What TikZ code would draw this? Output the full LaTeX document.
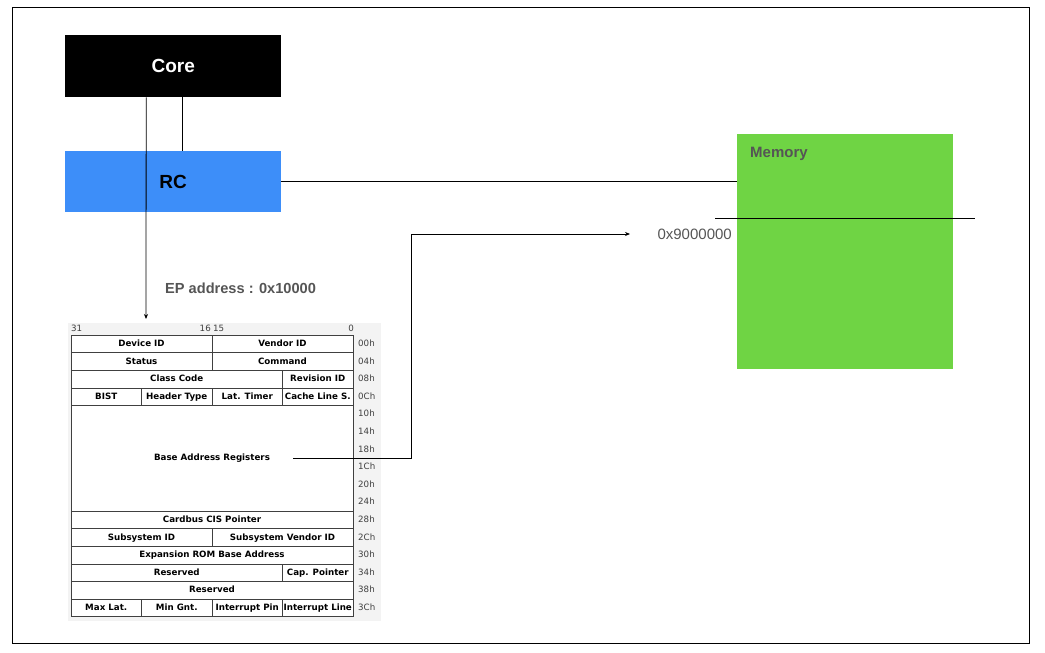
\documentclass[tikz,border=0pt]{standalone}
\usepackage{fontspec}
\setmainfont{Liberation Sans}
\newfontfamily\regfont{DejaVu Sans}
\usetikzlibrary{positioning,arrows.meta}
\definecolor{rcblue}{HTML}{3D8EF9}
\definecolor{memgreen}{HTML}{6FD444}
\definecolor{labelgray}{HTML}{555555}
\definecolor{regback}{HTML}{F3F3F3}

\begin{document}
\begin{tikzpicture}[x=1pt,y=-1pt,
	box/.style={minimum width=216pt,inner sep=0pt,anchor=north west,font=\bfseries\fontsize{19}{19}\selectfont},
	label/.style={inner sep=0pt,text=labelgray},
	link/.style={line width=0.8pt},
	tip/.style={-{Stealth[length=5pt,width=4pt]}},
	regline/.style={line width=0.9pt,draw=black!75,fill=white},
	regtext/.style={font=\regfont\bfseries\fontsize{8.7}{9}\selectfont,inner sep=0pt,text height=6.6pt,text depth=1.8pt},
	offtext/.style={font=\regfont\fontsize{8.7}{9}\selectfont,text=black!75,inner sep=0pt,text height=6.6pt,text depth=1.8pt,anchor=west}]
			\useasboundingbox (0,0) rectangle (1045,653);
			\draw[line width=0.8pt] (12,7) rectangle (1029,643);
			% boxes
			\node[box,fill=black,text=white,minimum height=62pt](core) at (65,35) {Core};
			\node[box,fill=rcblue,minimum height=61pt](rc) at (65,151) {RC};
			\node[box,fill=memgreen,minimum height=235pt](mem) at (737,134) {};
			\node[label,font=\bfseries\fontsize{15}{15}\selectfont,anchor=base west](memlabel) at (750,157.5) {Memory};
			\node[label,font=\bfseries\fontsize{14.6}{15}\selectfont,anchor=base west](eplabel) at (165,293.5) {EP address : 0x10000};
			\node[label,font=\fontsize{15}{15}\selectfont,anchor=base east](addr) at (732,239.5) {0x9000000};
			% config space header
			\fill[regback] (68,323) rectangle (381,621);
			\node[offtext](bit31) at (71,329) {31};
			\node[offtext,anchor=east](bit16) at (211,329) {16};
			\node[offtext](bit15) at (213,329) {15};
			\node[offtext,anchor=east](bit0) at (354,329) {0};
			\foreach \r/\h/\a/\b/\t in {0/1/0/2/Device ID,0/1/2/4/Vendor ID,1/1/0/2/Status,1/1/2/4/Command,
				2/1/0/3/Class Code,2/1/3/4/Revision ID,3/1/0/1/BIST,3/1/1/2/Header Type,3/1/2/3/Lat. Timer,
				3/1/3/4/Cache Line S.,10/1/0/4/Cardbus CIS Pointer,11/1/0/2/Subsystem ID,11/1/2/4/Subsystem Vendor ID,
				12/1/0/4/Expansion ROM Base Address,13/1/0/3/Reserved,13/1/3/4/Cap. Pointer,14/1/0/4/Reserved,
				15/1/0/1/Max Lat.,15/1/1/2/Min Gnt.,15/1/2/3/Interrupt Pin,15/1/3/4/Interrupt Line}{
				\draw[regline] (71+70.5*\a,335.2+17.6*\r) rectangle (71+70.5*\b,335.2+17.6*\r+17.6*\h);
				\node[regtext](reg-\r-\a) at (71+35.25*\a+35.25*\b,335.2+17.6*\r+8.8*\h) {\t};
			}
			\draw[regline] (71,335.2+17.6*4) rectangle (353,335.2+17.6*10);
			\node[regtext](bar) at (212,335.2+17.6*7) {Base Address Registers};
			\foreach \o [count=\i from 0] in {00h,04h,08h,0Ch,10h,14h,18h,1Ch,20h,24h,28h,2Ch,30h,34h,38h,3Ch}
				\node[offtext](off-\i) at (358,344+17.6*\i) {\o};
			% connectors
			\coordinate (eptip) at (146,319);
			\coordinate (bartip) at (630,234);
			\coordinate (split-l) at (715,218);
			\coordinate (split-r) at (975,218);
			\draw[link] ([xshift=9pt]core.south) -- ([xshift=9pt]core.south |- rc.north);
			\draw[link,tip] ([xshift=-27pt]core.south) -- (eptip);
			\draw[link] (rc.east) -- (rc.east -| mem.west);
			\draw[link] (split-l) -- (split-r);
			\draw[link,tip] ([xshift=81pt]bar.center) -- ++(118,0) |- (bartip);
\end{tikzpicture}
\end{document}
